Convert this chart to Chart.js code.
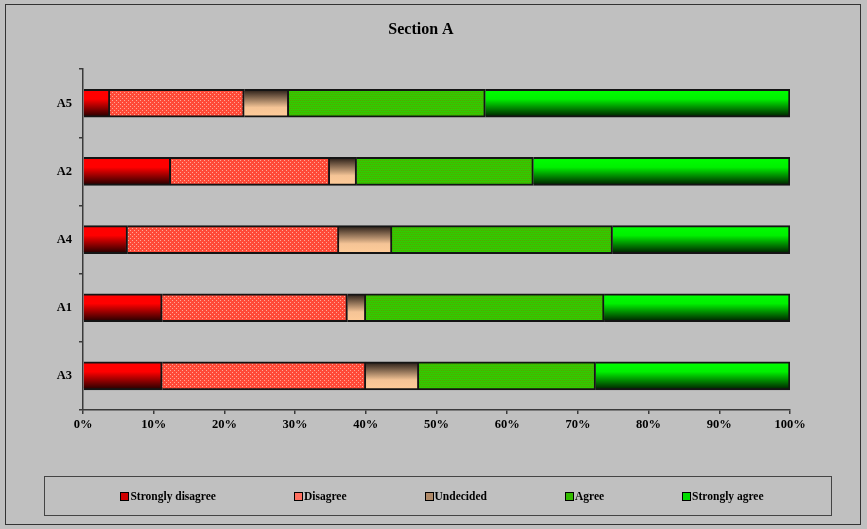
<!DOCTYPE html>
<html>
<head>
<meta charset="utf-8">
<script src="https://cdn.jsdelivr.net/npm/chart.js@4/dist/chart.umd.min.js"></script>
<style>
  html, body { margin: 0; padding: 0; background: #c0c0c0; }
  #wrap { position: relative; width: 867px; height: 529px; overflow: hidden; }
  #frame { position: absolute; left: 5px; top: 4px; width: 856px; height: 521px; border: 1px solid #333; box-sizing: border-box; pointer-events: none; }
  canvas { position: absolute; left: 0; top: 0; }
  #legend { position: absolute; left: 44px; top: 476px; width: 788px; height: 40px; box-sizing: border-box;
            border: 1.5px solid #444; display: flex; align-items: center; justify-content: center; gap: 78px;
            padding-left: 8px;
            font: bold 11.5px "Liberation Serif", "Times New Roman", serif; color: #000; }
  #legend .item { display: flex; align-items: center; white-space: nowrap; }
  #legend .swatch { width: 7px; height: 7px; border: 1px solid #000; margin-right: 1px; box-sizing: content-box; }
</style>
</head>
<body>
<div id="wrap">
  <canvas id="c" width="867" height="529"></canvas>
  <div id="frame"></div>
  <div id="legend"></div>
</div>
<script>
// Survey items and response shares (percent of respondents)
const items = ['A5', 'A2', 'A4', 'A1', 'A3'];
const responseLabels = ['Strongly disagree', 'Disagree', 'Undecided', 'Agree', 'Strongly agree'];
const stronglyDisagree = [3.8, 12.4, 6.3, 11.2, 11.2];
const disagree         = [19.0, 22.5, 29.9, 26.2, 28.8];
const undecided        = [6.3, 3.8, 7.5, 2.6, 7.5];
const agree            = [27.8, 25.0, 31.2, 33.7, 25.0];
const stronglyAgree    = [43.1, 36.3, 25.1, 26.3, 27.5];
const xTicks = [0, 10, 20, 30, 40, 50, 60, 70, 80, 90, 100];

const BAR_THICKNESS = 28;
const FONT = '"Liberation Serif", "Times New Roman", serif';

// Small repeating fills
function makePattern(size, base, dots) {
  const p = document.createElement('canvas');
  p.width = size; p.height = size;
  const g = p.getContext('2d');
  g.fillStyle = base; g.fillRect(0, 0, size, size);
  g.fillStyle = dots.color;
  dots.points.forEach(([x, y]) => g.fillRect(x, y, 1, 1));
  return document.getElementById('c').getContext('2d').createPattern(p, 'repeat');
}
const dottedRed = makePattern(4, '#ff4a38', { color: '#ffa898', points: [[0, 0], [2, 2]] });
const checkGreen = makePattern(4, '#30cc00', { color: '#5c9e00', points: [[0, 0], [2, 0], [1, 2], [3, 2]] });

// Vertical gradient fitted to each bar
function barGradient(stops, fallback) {
  return (ctx) => {
    const chart = ctx.chart;
    const ys = chart.scales && chart.scales.y;
    if (!chart.chartArea || !ys || ctx.type !== 'data') return fallback;
    const yc = ys.getPixelForValue(ctx.dataIndex);
    const g = chart.ctx.createLinearGradient(0, yc - BAR_THICKNESS / 2, 0, yc + BAR_THICKNESS / 2);
    stops.forEach(([o, c]) => g.addColorStop(o, c));
    return g;
  };
}

const fills = [
  barGradient([[0, '#ff0000'], [0.35, '#ff0000'], [1, '#1e0000']], '#cc0000'),
  dottedRed,
  barGradient([[0, '#241a14'], [0.65, '#f5c496'], [1, '#ffcc99']], '#c89a70'),
  checkGreen,
  barGradient([[0, '#00ff00'], [0.35, '#00f000'], [1, '#001a00']], '#00cc00'),
];
const swatchColors = ['#d00000', '#ff7060', '#b08a68', '#33bb00', '#00dd00'];
const series = [stronglyDisagree, disagree, undecided, agree, stronglyAgree];

const datasets = series.map((values, i) => ({
  label: responseLabels[i],
  data: values,
  backgroundColor: fills[i],
  borderColor: '#141414',
  borderWidth: 2,
  borderSkipped: 'start',
  barThickness: BAR_THICKNESS,
}));

const chart = new Chart(document.getElementById('c'), {
  type: 'bar',
  data: { labels: items, datasets },
  options: {
    indexAxis: 'y',
    responsive: false,
    animation: false,
    devicePixelRatio: 1,
    layout: { padding: { left: 52, right: 77, top: 0, bottom: 89 } },
    plugins: {
      legend: { display: false },
      tooltip: { enabled: false },
      title: {
        display: true,
        text: 'Section A',
        color: '#000',
        font: { family: FONT, size: 16, weight: 'bold' },
        padding: { top: 20, bottom: 30 },
      },
    },
    scales: {
      x: {
        stacked: true,
        min: 0, max: 100,
        afterBuildTicks: (s) => { s.ticks = xTicks.map(v => ({ value: v })); },
        afterFit: (s) => { s.height = 30; s.paddingLeft = 0; s.paddingRight = 0; },
        ticks: {
          callback: (v) => v + '%',
          color: '#000',
          padding: 3,
          maxRotation: 0,
          font: { family: FONT, size: 12.5, weight: 'bold' },
        },
        grid: { drawOnChartArea: false, drawTicks: true, tickLength: 4, color: '#3a3a3a', lineWidth: 1.5 },
        border: { color: '#3a3a3a', width: 1.5 },
      },
      y: {
        stacked: true,
        afterFit: (s) => { s.width = 31; s.paddingTop = 0; s.paddingBottom = 0; },
        ticks: {
          color: '#000',
          padding: 7,
          font: { family: FONT, size: 12.5, weight: 'bold' },
        },
        grid: { drawOnChartArea: false, drawTicks: true, tickLength: 4, offset: true, color: '#3a3a3a', lineWidth: 1.5 },
        border: { color: '#3a3a3a', width: 1.5 },
      },
    },
  },
});

// Legend built from the chart's datasets
const legendEl = document.getElementById('legend');
chart.data.datasets.forEach((ds, i) => {
  const item = document.createElement('div');
  item.className = 'item';
  const sw = document.createElement('span');
  sw.className = 'swatch';
  sw.style.background = swatchColors[i];
  const tx = document.createElement('span');
  tx.textContent = ds.label;
  item.appendChild(sw);
  item.appendChild(tx);
  legendEl.appendChild(item);
});
</script>
</body>
</html>
